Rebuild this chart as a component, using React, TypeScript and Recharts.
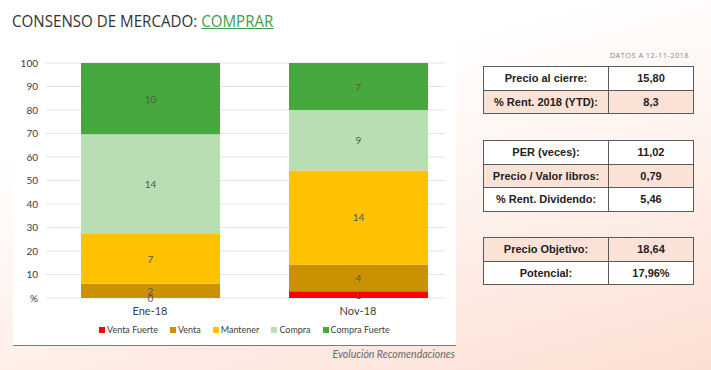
import React from "react";
import { BarChart, Bar, XAxis, YAxis, CartesianGrid, Legend, LabelList } from "recharts";

const categories = ["Ene-18", "Nov-18"];
const ventaFuerte = [0, 1];
const venta = [2, 4];
const mantener = [7, 14];
const compra = [14, 9];
const compraFuerte = [10, 7];
const yTickLabels = [0, 10, 20, 30, 40, 50, 60, 70, 80, 90, 100];

const SERIES = [
  { key: "ventaFuerte", name: "Venta Fuerte", color: "#ff0000", values: ventaFuerte },
  { key: "venta", name: "Venta", color: "#cc9100", values: venta },
  { key: "mantener", name: "Mantener", color: "#ffc200", values: mantener },
  { key: "compra", name: "Compra", color: "#b9deb4", values: compra },
  { key: "compraFuerte", name: "Compra Fuerte", color: "#47a93d", values: compraFuerte },
];

const data = categories.map((cat, i) => {
  const row: Record<string, string | number> = { cat };
  SERIES.forEach((s) => (row[s.key] = s.values[i]));
  return row;
});

const tables = [
  { top: 66, rows: [["Precio al cierre:", "15,80"], ["% Rent. 2018 (YTD):", "8,3"]], shade: [false, true] },
  {
    top: 140,
    rows: [["PER (veces):", "11,02"], ["Precio / Valor libros:", "0,79"], ["% Rent. Dividendo:", "5,46"]],
    shade: [false, true, false],
  },
  { top: 237, rows: [["Precio Objetivo:", "18,64"], ["Potencial:", "17,96%"]], shade: [true, false] },
];

const FONT = "Lato, 'Open Sans', sans-serif";

function InfoTable({ top, rows, shade }: { top: number; rows: string[][]; shade: boolean[] }) {
  return (
    <table
      style={{
        position: "absolute",
        left: 483,
        top,
        width: 211,
        borderCollapse: "collapse",
        fontFamily: "'Liberation Sans', Arial, sans-serif",
        fontWeight: "bold",
        fontSize: 11,
        color: "#222",
      }}
    >
      <tbody>
        {rows.map((r, i) => (
          <tr key={i} style={{ height: 23.5, background: shade[i] ? "#fbe2d6" : "#ffffff" }}>
            <td style={{ border: "1.5px solid #5a5a5a", width: 124, textAlign: "center", padding: 0 }}>{r[0]}</td>
            <td style={{ border: "1.5px solid #5a5a5a", textAlign: "center", padding: 0 }}>{r[1]}</td>
          </tr>
        ))}
      </tbody>
    </table>
  );
}

// zero-height segments still get their label, as in the source
function CountLabel(props: any) {
  const { x, y, width, height, value } = props;
  if (value === undefined || value === null) return null;
  return (
    <text
      x={x + width / 2}
      y={y + height / 2}
      textAnchor="middle"
      dominantBaseline="central"
      fill="#555"
      fontSize={10}
      fontFamily={FONT}
    >
      {value}
    </text>
  );
}

function LegendRow() {
  return (
    <div style={{ display: "flex", alignItems: "center", fontSize: 9, fontFamily: FONT, color: "#404040" }}>
      {SERIES.map((s) => (
        <div key={s.key} style={{ display: "flex", alignItems: "center", marginRight: 12 }}>
          <span style={{ width: 6, height: 6, background: s.color, marginRight: 2, display: "inline-block" }} />
          <span style={{ whiteSpace: "nowrap" }}>{s.name}</span>
        </div>
      ))}
    </div>
  );
}

export default function App() {
  return (
    <div
      style={{
        position: "absolute",
        left: 0,
        top: 0,
        width: 711,
        height: 370,
        overflow: "hidden",
        background: "linear-gradient(165deg, #ffffff 0%, #ffffff 28%, #fcdfd3 100%)",
        fontFamily: FONT,
      }}
    >
      <div
        style={{
          position: "absolute",
          left: 13,
          top: 0,
          width: 443,
          height: 345,
          background: "#ffffff",
          borderBottom: "1px solid #7a7a7a",
        }}
      />
      <div
        style={{
          position: "absolute",
          left: 12,
          top: 9,
          fontFamily: "'Open Sans', sans-serif",
          fontSize: 17,
          color: "#333",
          whiteSpace: "nowrap",
          transform: "scaleX(0.89)",
          transformOrigin: "left top",
        }}
      >
        CONSENSO DE MERCADO: <span style={{ color: "#3f9f4a", textDecoration: "underline" }}>COMPRAR</span>
      </div>

      <div style={{ position: "absolute", left: 0, top: 0 }}>
        <BarChart
          width={470}
          height={345}
          data={data}
          stackOffset="expand"
          barSize={139}
          margin={{ top: 63, right: 8, bottom: 27, left: 0 }}
        >
          <CartesianGrid vertical={false} stroke="#e4e4e4" x={46} width={399} />
          <XAxis
            dataKey="cat"
            height={20}
            axisLine={false}
            tickLine={false}
            tickMargin={3}
            tick={{ fontSize: 11, fill: "#404040", fontFamily: FONT }}
          />
          <YAxis
            width={46}
            domain={[0, 1]}
            ticks={yTickLabels.map((t) => t / 100)}
            tickFormatter={(v: number) => (v === 0 ? "%" : String(Math.round(v * 100)))}
            axisLine={false}
            tickLine={false}
            tickSize={0}
            tickMargin={8}
            interval={0}
            tick={{ fontSize: 10, fill: "#404040", fontFamily: FONT }}
          />
          <Legend
            layout="horizontal"
            verticalAlign="middle"
            align="center"
            wrapperStyle={{ left: 99, top: 324, width: "auto" }}
            content={() => <LegendRow />}
          />
          {SERIES.map((s) => (
            <Bar
              key={s.key}
              dataKey={s.key}
              name={s.name}
              stackId="a"
              fill={s.color}
              minPointSize={s.key === "ventaFuerte" ? 0.01 : 0}
              isAnimationActive={false}
            >
              <LabelList dataKey={s.key} content={CountLabel} />
            </Bar>
          ))}
        </BarChart>
      </div>

      <div
        style={{
          position: "absolute",
          right: 711 - 455,
          top: 348,
          fontSize: 10.5,
          fontStyle: "italic",
          color: "#6a6a6a",
          whiteSpace: "nowrap",
        }}
      >
        Evolución Recomendaciones
      </div>

      <div
        style={{
          position: "absolute",
          right: 711 - 689,
          top: 50,
          fontSize: 7.5,
          letterSpacing: 0.4,
          color: "#888",
          fontFamily: "'Open Sans', sans-serif",
          whiteSpace: "nowrap",
        }}
      >
        DATOS A 12-11-2018
      </div>

      {tables.map((t, i) => (
        <InfoTable key={i} top={t.top} rows={t.rows} shade={t.shade} />
      ))}
    </div>
  );
}
